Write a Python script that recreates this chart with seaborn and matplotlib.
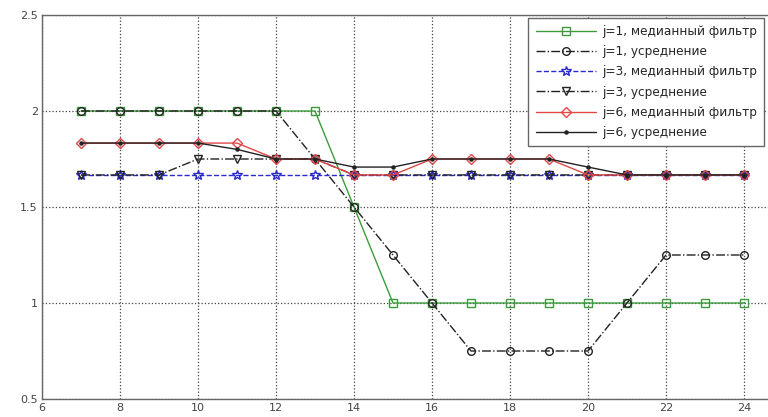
import matplotlib
matplotlib.use("Agg")
import matplotlib.pyplot as plt
import seaborn as sns
import pandas as pd
from matplotlib.ticker import FormatStrFormatter

x = list(range(7, 25))
j1_median = [2, 2, 2, 2, 2, 2, 2, 1.5, 1, 1, 1, 1, 1, 1, 1, 1, 1, 1]
j1_avg = [2, 2, 2, 2, 2, 2, 1.75, 1.5, 1.25, 1, 0.75, 0.75, 0.75, 0.75, 1, 1.25, 1.25, 1.25]
j3_median = [1.667] * 18
j3_avg = [1.667, 1.667, 1.667, 1.75, 1.75, 1.75, 1.75, 1.667, 1.667, 1.667, 1.667, 1.667, 1.667,
          1.667, 1.667, 1.667, 1.667, 1.667]
j6_median = [1.833, 1.833, 1.833, 1.833, 1.833, 1.75, 1.75, 1.667, 1.667, 1.75, 1.75, 1.75, 1.75,
             1.667, 1.667, 1.667, 1.667, 1.667]
j6_avg = [1.833, 1.833, 1.833, 1.833, 1.8, 1.75, 1.75, 1.708, 1.708, 1.75, 1.75, 1.75, 1.75,
          1.708, 1.667, 1.667, 1.667, 1.667]
labels = ["j=1, медианный фильтр", "j=1, усреднение", "j=3, медианный фильтр",
          "j=3, усреднение", "j=6, медианный фильтр", "j=6, усреднение"]
series = [j1_median, j1_avg, j3_median, j3_avg, j6_median, j6_avg]

df = pd.concat([pd.DataFrame({"x": x, "y": s, "series": lab}) for s, lab in zip(series, labels)],
               ignore_index=True)

styles = {
    labels[0]: dict(color="#3c9c3c", marker="s", linestyle="-", mfc="none", ms=5.5),
    labels[1]: dict(color="#222222", marker="o", linestyle="-.", mfc="none", ms=5.5),
    labels[2]: dict(color="#2a2ad0", marker="*", linestyle="--", mfc="none", ms=7.5),
    labels[3]: dict(color="#222222", marker="v", linestyle="-.", mfc="none", ms=5.5),
    labels[4]: dict(color="#e04848", marker="D", linestyle="-", mfc="none", ms=5.5),
    labels[5]: dict(color="#222222", marker=".", linestyle="-", mfc="#222222", ms=4.5),
}

sns.set_theme(style="white")
plt.rcParams['font.family'] = ['DejaVu Sans']

fig = plt.figure(figsize=(7.68, 4.17), dpi=100)
ax = fig.add_axes([42 / 768, 1 - 399 / 417, (783 - 42) / 768, (399 - 15) / 417])

for lab in labels:
    st = styles[lab]
    sns.lineplot(data=df[df["series"] == lab], x="x", y="y", ax=ax, label=lab,
                 color=st["color"], marker=st["marker"], linestyle=st["linestyle"],
                 markerfacecolor=st["mfc"], markeredgecolor=st["color"], markersize=st["ms"],
                 linewidth=1.0, markeredgewidth=1.0)

ax.set_xlim(6, 25)
ax.set_ylim(0.5, 2.5)
ax.set_xticks(range(6, 26, 2))
ax.set_yticks([0.5, 1, 1.5, 2, 2.5])
ax.yaxis.set_major_formatter(FormatStrFormatter('%g'))
ax.set_xlabel("")
ax.set_ylabel("")
ax.grid(True, color="#444444", linestyle=":", linewidth=0.9)
ax.tick_params(axis="both", direction="in", length=4, labelsize=8, colors="#444444", pad=3)
for sp in ax.spines.values():
    sp.set_color("#666666")
    sp.set_linewidth(1.0)

leg = ax.legend(loc="upper right", bbox_to_anchor=(1.003, 0.972), bbox_transform=fig.transFigure,
                fontsize=8.7, frameon=True, fancybox=False, handlelength=5.0, labelspacing=0.6,
                borderpad=0.6, handletextpad=0.5)
leg.get_frame().set_edgecolor("#666666")
leg.get_frame().set_linewidth(1.0)
leg.get_frame().set_alpha(1)

fig.savefig("out.png", dpi=100)
